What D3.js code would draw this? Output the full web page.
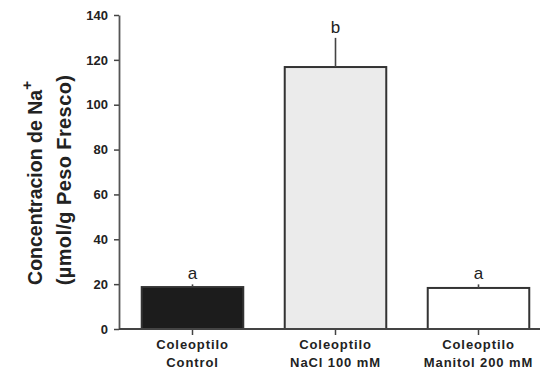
<!DOCTYPE html>
<html>
<head>
<meta charset="utf-8">
<script src="https://cdn.jsdelivr.net/npm/d3@7"></script>
<style>
  html, body { margin: 0; padding: 0; background: #fff; }
  svg { display: block; font-family: "Liberation Sans", Arial, sans-serif; }
</style>
</head>
<body>
<svg id="chart" width="542" height="376"></svg>
<script>
// Na+ concentration in coleoptiles by treatment
const categories = ["Control", "NaCl 100 mM", "Manitol 200 mM"];
const values = [18.7, 116.8, 18.3];
const errors = [1.2, 13, 1.6];
const letters = ["a", "b", "a"];
const fills = ["#1c1c1c", "#ebebeb", "#ffffff"];
const yTicks = [0, 20, 40, 60, 80, 100, 120, 140];

const svg = d3.select("#chart");
const axisX0 = 119, axisY0 = 329;
const FONT = "Liberation Sans, Arial, sans-serif";

const y = d3.scaleLinear().domain([0, 140]).range([axisY0, 15]);
const x = d3.scaleBand().domain(categories).range([121, 550]).paddingInner(0.29).paddingOuter(0.145);

// bars
svg.selectAll("rect.bar").data(categories).join("rect")
  .attr("class", "bar")
  .attr("x", d => x(d))
  .attr("width", x.bandwidth())
  .attr("y", (d, i) => y(values[i]))
  .attr("height", (d, i) => y(0) - y(values[i]))
  .attr("fill", (d, i) => fills[i])
  .attr("stroke", "#333")
  .attr("stroke-width", 2);

// error bars
svg.selectAll("line.err").data(categories).join("line")
  .attr("x1", d => x(d) + x.bandwidth() / 2)
  .attr("x2", d => x(d) + x.bandwidth() / 2)
  .attr("y1", (d, i) => y(values[i]))
  .attr("y2", (d, i) => y(values[i] + errors[i]))
  .attr("stroke", "#444")
  .attr("stroke-width", 1.6);

// significance letters
svg.selectAll("text.letter").data(categories).join("text")
  .attr("x", d => x(d) + x.bandwidth() / 2)
  .attr("y", (d, i) => y(values[i] + errors[i]) - 5)
  .attr("text-anchor", "middle")
  .attr("font-size", 17)
  .attr("fill", "#222")
  .text((d, i) => letters[i]);

// y axis
const yAxis = svg.append("g").attr("transform", `translate(${axisX0},0)`)
  .call(d3.axisLeft(y).tickValues(yTicks).tickSize(5).tickPadding(6).tickSizeOuter(0));
yAxis.select(".domain").attr("stroke", "#555").attr("stroke-width", 1.8);
yAxis.selectAll(".tick line").attr("stroke", "#444").attr("stroke-width", 1.5);
yAxis.selectAll(".tick text").attr("font-size", 13).attr("font-weight", "bold")
  .attr("fill", "#222").attr("font-family", FONT);

// x axis
const xAxis = svg.append("g").attr("transform", `translate(0,${axisY0})`)
  .call(d3.axisBottom(x).tickSize(6).tickSizeOuter(0).tickFormat(""));
xAxis.select(".domain").attr("d", `M${axisX0},0H540`).attr("stroke", "#444").attr("stroke-width", 2);
xAxis.selectAll(".tick line").attr("stroke", "#444").attr("stroke-width", 1.5);
xAxis.selectAll(".tick").each(function (d) {
  const t = d3.select(this).append("text")
    .attr("text-anchor", "middle")
    .attr("font-size", 13)
    .attr("font-weight", "bold")
    .attr("letter-spacing", 0.9)
    .attr("fill", "#222")
    .attr("font-family", FONT);
  t.append("tspan").attr("x", 0).attr("y", 20).text("Coleoptilo");
  t.append("tspan").attr("x", 0).attr("y", 38).text(d);
});

// y axis title
const title = svg.append("text")
  .attr("transform", "translate(42,183) rotate(-90)")
  .attr("text-anchor", "middle")
  .attr("font-size", 19.5)
  .attr("font-weight", "bold")
  .attr("fill", "#222");
title.append("tspan").text("Concentracion de Na");
title.append("tspan").attr("dy", -10).attr("font-size", 15).text("+");

svg.append("text")
  .attr("transform", "translate(71,180) rotate(-90)")
  .attr("text-anchor", "middle")
  .attr("font-size", 20)
  .attr("letter-spacing", 0.4)
  .attr("font-weight", "bold")
  .attr("fill", "#222")
  .text("(µmol/g Peso Fresco)");
</script>
</body>
</html>
